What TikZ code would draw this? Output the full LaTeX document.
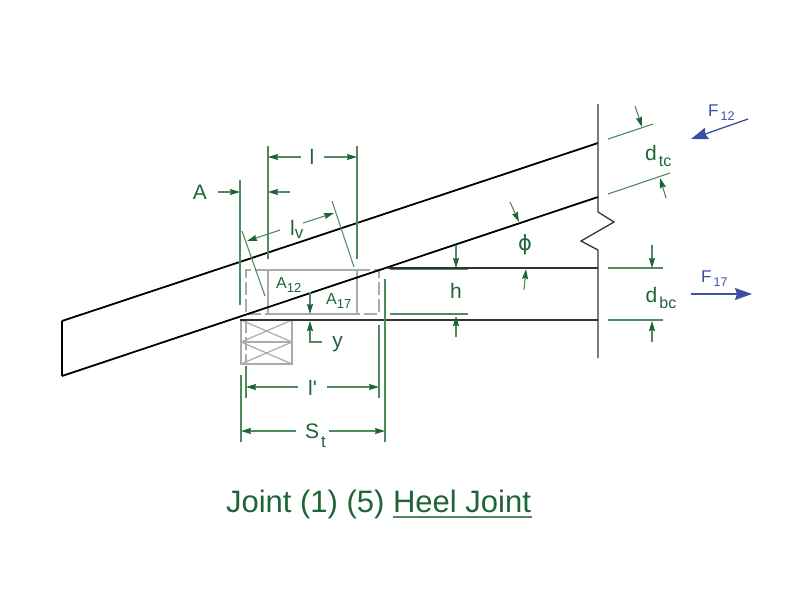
\documentclass[tikz,border=0pt]{standalone}
\usepackage{fontspec}
\setmainfont{Liberation Sans}
\newfontfamily\plainsans{Liberation Sans}
\usepackage{xcolor}
\usetikzlibrary{arrows.meta}

\definecolor{dimgreen}{HTML}{4F8A5E}
\definecolor{labelgreen}{HTML}{1E6438}
\definecolor{forceblue}{HTML}{3A50A4}
\definecolor{boxgray}{HTML}{ABABAB}

\newcommand{\lblsize}[1]{\fontsize{#1}{#1}\selectfont}
\newcommand{\subdrop}[3]{\raisebox{-#1pt}{\lblsize{#2}#3}}

\tikzset{
    dimline/.style={draw=dimgreen,line width=1.1pt},
    dimarrow/.style={dimline,-{Stealth[length=10pt,width=6pt,inset=1pt,color=labelgreen]}},
    member/.style={draw=black,line width=1.8pt},
    lbl/.style={text=labelgreen,inner sep=0pt,font=\lblsize{21}},
    smalllbl/.style={text=labelgreen,inner sep=0pt,anchor=base west,font=\lblsize{16}},
    forcelbl/.style={text=forceblue,inner sep=0pt,anchor=base west,font=\lblsize{17}},
    forcearrow/.style={draw=forceblue,line width=1.3pt,-{Stealth[length=17pt,width=12pt,inset=2pt]}},
    graybox/.style={draw=boxgray,line width=1.6pt},
}

\begin{document}
\begin{tikzpicture}[x=1pt,y=-1pt]
    \useasboundingbox (0,0) rectangle (800,600);

    % Gray bearing area
    \draw[graybox,dash pattern=on 13pt off 4pt] (268,270) -- (246,270) -- (246,314) -- (268,314);
    \draw[graybox,dash pattern=on 13pt off 4pt] (357,270) -- (379,270) -- (379,314) -- (357,314);
    \draw[graybox] (268,270) rectangle (357,314);

    % Support block
    \draw[graybox] (241,320) rectangle (292,364);
    \draw[graybox] (241,342) -- (292,342);
    \draw[graybox,line width=1.2pt] (241,320) -- (292,342) (241,342) -- (292,320);
    \draw[graybox,line width=1.2pt] (241,342) -- (292,364) (241,364) -- (292,342);
    \draw[graybox,dash pattern=on 13pt off 4pt] (246,320) -- (246,364);

    % Dimension h lines sit under the chord
    \draw[dimline,line width=1.6pt] (390,269) -- (468,269);
    \draw[dimline] (390,314) -- (468,314);

    % Top chord
    \draw[member] (62,321) -- (598,143);
    \draw[member] (62,376) -- (598,197);
    \draw[member,line width=1.3pt] (62,321) -- (62,376);

    % Bottom chord
    \draw[member,draw=black!80] (388,268) -- (598,268);
    \draw[member,draw=black!80] (240,320) -- (598,320);

    % Break line
    \draw[member,line width=1.3pt,draw=black!80] (598,104) -- (598,212) -- (614,222) -- (581,241)
        -- (598,250) -- (598,358);

    % Dimension A and l
    \draw[dimline] (240,180) -- (240,305);
    \draw[dimline] (268,146) -- (268,259);
    \draw[dimline] (357,146) -- (357,259);
    \node[lbl] (lenA) at (200,192) {A};
    \draw[dimarrow] (218,192) -- (240,192);
    \draw[dimarrow] (290,192) -- (268,192);
    \node[lbl] (lenL) at (312,157) {l};
    \draw[dimarrow] (301,157) -- (268,157);
    \draw[dimarrow] (324,157) -- (357,157);

    % Dimension lv
    \draw[dimline] (242,231) -- (265,296);
    \draw[dimline] (332,201) -- (354,267);
    \node[lbl,anchor=base west] (lenV) at (290,235) {l\subdrop{3}{17}{v}};
    \draw[dimarrow] (280,230) -- (247,241);
    \draw[dimarrow] (303,223) -- (334,213);

    % Areas
    \node[smalllbl] (areaA) at (276,288) {A\subdrop{4}{13}{12}};
    \node[smalllbl] (areaB) at (326,304) {A\subdrop{4}{13}{17}};

    % Dimension y
    \node[lbl,anchor=base] (lenY) at (337.5,347) {y};
    \draw[dimarrow] (310,292) -- (310,314);
    \draw[dimarrow] (322,342) -- (310,342) -- (310,321);

    % Dimension h
    \node[lbl,anchor=base] (lenH) at (456,298) {h};
    \draw[dimarrow] (456,245) -- (456,268);
    \draw[dimarrow] (456,337) -- (456,316);

    % Dimension l' and St
    \draw[dimline] (241,375) -- (241,442);
    \draw[dimline] (246,366) -- (246,398);
    \draw[dimline] (379,325) -- (379,398);
    \draw[dimline] (385,279) -- (385,442);
    \node[lbl,anchor=base] (lenP) at (312.5,395) {\plainsans l'};
    \draw[dimarrow] (298,387) -- (246,387);
    \draw[dimarrow] (327,387) -- (379,387);
    \node[lbl,anchor=base west] (lenS) at (305,438) {S\kern2pt\subdrop{9}{17}{t}};
    \draw[dimarrow] (296,431) -- (241,431);
    \draw[dimarrow] (329,431) -- (385,431);

    % Angle
    \node[lbl] (angPhi) at (525,245) {\fontspec{DejaVu Sans}\lblsize{21}ϕ};
    \draw[dimarrow] (510,202) -- (519,222);
    \draw[dimarrow] (524,290) -- (526,269);

    % Dimension dtc
    \draw[dimline] (608,139) -- (653,124);
    \draw[dimline] (608,194) -- (670,173);
    \node[lbl,anchor=base west] (depthT) at (645,160) {d\kern2pt\subdrop{6}{16}{tc}};
    \draw[dimarrow] (635,106) -- (642,127);
    \draw[dimarrow] (666,198) -- (660,178);

    % Dimension dbc
    \draw[dimline] (608,268) -- (663,268);
    \draw[dimline] (608,320) -- (663,320);
    \node[lbl,anchor=base west] (depthB) at (645.5,302) {d\kern2pt\subdrop{6}{16}{bc}};
    \draw[dimarrow] (652,245) -- (652,268);
    \draw[dimarrow] (652,342) -- (652,321);

    % Forces
    \node[forcelbl] (forceA) at (708,116) {F\kern2pt\subdrop{4}{12.5}{12}};
    \draw[forcearrow] (748,119) -- (691,139);
    \node[forcelbl] (forceB) at (701,282) {F\kern2pt\subdrop{4}{12.5}{17}};
    \draw[forcearrow] (691,294) -- (752,294);

    % Title
    \node[text=labelgreen,inner sep=0pt,anchor=base,font=\lblsize{31}] (title) at (378.5,512) {Joint (1) (5) Heel Joint};
    \draw[draw=dimgreen,line width=1.3pt] (393,517) -- (532,517);
\end{tikzpicture}
\end{document}
